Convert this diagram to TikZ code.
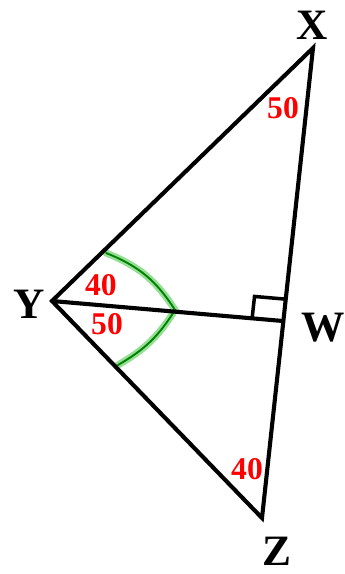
\documentclass[tikz,border=0pt]{standalone}
\usepackage{fontspec}
\setmainfont{Liberation Serif}
\usetikzlibrary{calc}

\begin{document}
\begin{tikzpicture}[x=0.03cm, y=-0.03cm,
    edge/.style={line width=3.5pt, line cap=round, line join=miter},
    vlab/.style={font=\fontsize{37}{37}\selectfont\bfseries, inner sep=0pt},
    ang/.style={font=\fontsize{27}{27}\selectfont\bfseries, text=red, inner sep=0pt},
    garc/.style={draw=green!50!black, line width=1.6pt, line cap=round,
                 preaction={draw=green!70!black!70, line width=6pt, opacity=0.6, line cap=round}}
]
    \useasboundingbox (0,0) rectangle (345,574);

    % Vertices of the triangle and the foot of the altitude
    \coordinate (X) at (313,48);
    \coordinate (Y) at (52,301);
    \coordinate (Z) at (262,518);
    \coordinate (W) at (283,321);

    % Ends of the green angle mark
    \coordinate (g1) at (106,253);
    \coordinate (g2) at (175,310);
    \coordinate (g3) at (118,365);
    \draw[garc] (g1) to[bend left=18] (g2) to[bend left=14] (g3);

    % Triangle and altitude
    \draw[edge] (X) -- (Y) -- (Z) -- cycle;
    \draw[edge] (Y) -- (W);

    % Right angle mark at W
    \coordinate (r1) at ($(W)!0.93cm!(Y)$);
    \coordinate (r2) at ($(W)!0.66cm!(X)$);
    \draw[line width=3pt] (r1) -- ($(r1)+(r2)-(W)$) -- (r2);

    % Vertex labels
    \node[vlab] (lX) at (312,25)  {X};
    \node[vlab] (lY) at (29,304)  {Y};
    \node[vlab] (lW) at (323,328) {W};
    \node[vlab] (lZ) at (277,551) {Z};

    % Angle values
    \node[ang] (aX)  at (283,108) {50};
    \node[ang] (aY1) at (101,285) {40};
    \node[ang] (aY2) at (107,324) {50};
    \node[ang] (aZ)  at (247,469) {40};
\end{tikzpicture}
\end{document}
